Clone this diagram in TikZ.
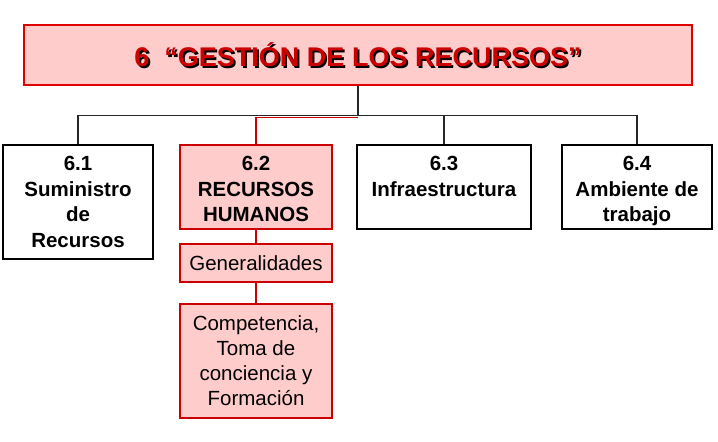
\documentclass[tikz,border=0pt]{standalone}
\usepackage{fontspec}
\setmainfont{Liberation Sans}
\definecolor{pinkfill}{HTML}{FFCCCC}
\definecolor{titlered}{HTML}{CC0000}
\definecolor{borderred}{HTML}{E00000}
\definecolor{linered}{HTML}{CC0000}
\newcommand{\shadowtext}[1]{\rlap{\kern1.8pt\raisebox{-1.8pt}{\color{black}#1}}{\color{titlered}#1}}
\begin{document}
\begin{tikzpicture}[x=1pt,y=-1pt,
  wbox/.style={draw=black,line width=1.1pt,fill=white,inner sep=0pt,minimum width=150pt},
  pbox/.style={draw=linered,line width=1.1pt,fill=pinkfill,inner sep=0pt,minimum width=152pt},
  btxt/.style={align=center,inner sep=0pt,anchor=north,font=\fontsize{20.5}{25.7}\selectfont\bfseries},
  rtxt/.style={align=center,inner sep=0pt,anchor=north,font=\fontsize{20.5}{25.3}\selectfont},
  conn/.style={line width=1.1pt,draw=black!85},
  rconn/.style={line width=1.1pt,draw=linered}]
\useasboundingbox (0,0) rectangle (718,442);
% title
\node[draw=borderred,line width=1.2pt,fill=pinkfill,minimum width=668pt,minimum height=60pt,inner sep=0pt] (title) at (358,55) {};
\node[anchor=base,inner sep=0pt,font=\fontsize{27}{30}\selectfont\bfseries] (ttitle) at (358,66.7) {\shadowtext{6~~“GESTIÓN DE LOS RECURSOS”}};
% hubs
\coordinate (hub) at ([yshift=-30pt]title.south);
\coordinate (hubr) at ([yshift=-31.5pt]title.south);
% boxes
\node[wbox,minimum height=114pt] (b61) at (78,202) {};
\node[pbox,minimum height=84pt] (b62) at (256,187) {};
\node[wbox,minimum width=174pt,minimum height=84pt] (b63) at (444,187) {};
\node[wbox,minimum height=84pt] (b64) at (637,187) {};
\node[pbox,minimum height=38pt,font=\fontsize{20.5}{25}\selectfont] (bgen) at (256,263) {Generalidades};
\node[pbox,minimum height=114pt] (bcomp) at (256,361) {};
% texts
\node[btxt] (t61) at (78,156) {6.1\\Suministro\\de\\Recursos};
\node[btxt] (t62) at (256,156) {6.2\\RECURSOS\\HUMANOS};
\node[btxt] (t63) at (444,156) {6.3\\Infraestructura};
\node[btxt] (t64) at (637,156) {6.4\\Ambiente de\\trabajo};
\node[rtxt] (tcomp) at (256,315) {Competencia,\\Toma de\\conciencia y\\Formación};
% connectors
\draw[conn] (title.south) -- (hub);
\draw[conn] (b61.north) |- (hub) -| (b64.north);
\draw[conn] (hub) -| (b63.north);
\draw[rconn] (b62.north) |- (hubr);
\draw[rconn] (b62.south) -- (bgen.north);
\draw[rconn] (bgen.south) -- (bcomp.north);
\end{tikzpicture}
\end{document}
